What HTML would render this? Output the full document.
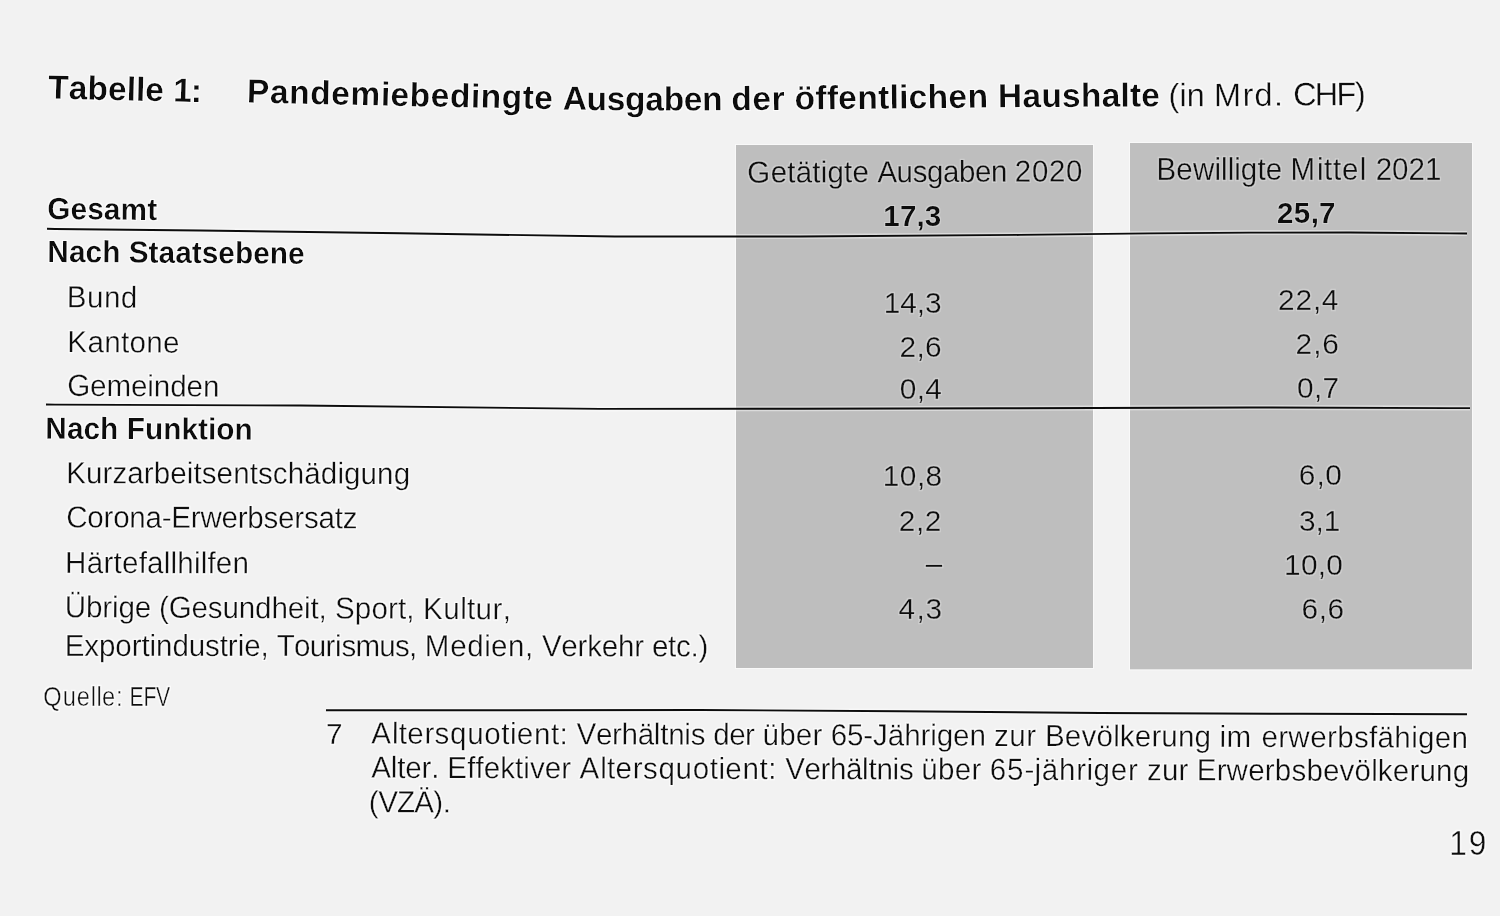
<!DOCTYPE html><html><head><meta charset="utf-8"><title>Tabelle 1</title><style>
html,body{margin:0;padding:0;background:#f2f2f2;}svg{display:block;}
text{font-family:"Liberation Sans",Arial,sans-serif;fill:#0a0a0a;}text.b{font-weight:bold;}text.r{font-weight:normal;}
</style></head><body>
<svg width="1500" height="916" viewBox="0 0 1500 916">
<rect x="0" y="0" width="1500" height="916" fill="#f2f2f2"/>
<rect fill="#bebebe" x="736" y="145" width="357" height="523"/>
<rect fill="#bfbfbf" x="1130" y="143" width="342" height="526.5"/>
<rect x="735.5" y="144.5" width="358" height="524" fill="none" stroke="#fafafa" stroke-width="1" opacity="0.8"/>
<rect x="1129.5" y="142.5" width="343" height="527.5" fill="none" stroke="#fafafa" stroke-width="1" opacity="0.8"/>
<polyline opacity="0.45" fill="none" stroke="#ffffff" stroke-width="5.00" points="47.0,228.8 55.0,229.0 200.0,230.5 400.0,233.3 615.0,236.5 800.0,236.5 1020.0,234.9 1150.0,233.4 1250.0,232.6 1350.0,232.5 1450.0,233.4 1467.0,233.5"/>
<polyline opacity="0.45" fill="none" stroke="#ffffff" stroke-width="5.00" points="46.0,404.5 55.0,404.6 300.0,405.5 600.0,408.9 800.0,408.8 1000.0,408.3 1250.0,407.5 1450.0,408.1 1470.0,408.1"/>
<polyline opacity="0.45" fill="none" stroke="#ffffff" stroke-width="5.00" points="326.0,710.2 500.0,710.3 700.0,710.0 900.0,711.3 1100.0,713.0 1300.0,713.8 1467.0,714.2"/>
<polyline fill="none" stroke="#0c0c0c" stroke-width="1.90" points="47.0,228.8 55.0,229.0 200.0,230.5 400.0,233.3 615.0,236.5 800.0,236.5 1020.0,234.9 1150.0,233.4 1250.0,232.6 1350.0,232.5 1450.0,233.4 1467.0,233.5"/>
<polyline fill="none" stroke="#0c0c0c" stroke-width="1.90" points="46.0,404.5 55.0,404.6 300.0,405.5 600.0,408.9 800.0,408.8 1000.0,408.3 1250.0,407.5 1450.0,408.1 1470.0,408.1"/>
<polyline fill="none" stroke="#0c0c0c" stroke-width="1.90" points="326.0,710.2 500.0,710.3 700.0,710.0 900.0,711.3 1100.0,713.0 1300.0,713.8 1467.0,714.2"/>
<defs><filter id="hb" x="-5%" y="-30%" width="110%" height="160%"><feMorphology in="SourceAlpha" operator="dilate" radius="1.0" result="d"/><feFlood flood-color="#ffffff" flood-opacity="0.75"/><feComposite in2="d" operator="in" result="h"/><feMerge><feMergeNode in="h"/><feMergeNode in="SourceGraphic"/></feMerge></filter><filter id="hg" x="-5%" y="-30%" width="110%" height="160%"><feMorphology in="SourceAlpha" operator="dilate" radius="1.0" result="d"/><feFlood flood-color="#ffffff" flood-opacity="0.25"/><feComposite in2="d" operator="in" result="h"/><feMerge><feMergeNode in="h"/><feMergeNode in="SourceGraphic"/></feMerge></filter></defs>
<g filter="url(#hb)"><text class="b" style="font-size:33.40px" x="47.92 68.46 87.16 107.69 126.39 135.73 145.06 163.74 173.10 190.80" y="98.50 99.01 99.47 99.97 100.43 100.66 100.89 101.35 101.58 102.01" rotate="1.41 1.41 1.41 1.41 1.41 1.41 1.41 1.41 1.41 0.57">Tabelle 1:</text>
<text class="b" style="font-size:33.40px" x="246.77 269.71 288.91 309.94 330.99 350.18 380.82 390.37 409.56 430.58 449.75 470.83 480.40 501.42 522.44 533.94 553.07 562.67 586.53 606.73 625.11 645.30 663.67 683.87 702.25 722.46 731.63 752.63 771.79 785.10 794.70 815.57 826.97 838.37 857.42 878.27 889.71 899.22 908.70 927.75 948.62 967.66 988.51 998.07 1022.54 1041.43 1062.14 1081.02 1101.72 1120.61 1130.00 1141.31" y="102.57 103.04 103.47 103.94 104.41 104.83 105.52 105.73 106.16 106.60 107.00 107.43 107.63 108.06 108.49 108.73 109.27 109.70 110.24 110.30 110.35 110.41 110.46 110.52 110.58 110.45 110.35 110.10 109.88 109.72 109.61 109.37 109.24 109.12 108.93 108.72 108.59 108.48 108.37 108.14 107.90 107.68 107.43 107.32 107.18 107.08 106.97 106.87 106.76 106.66 106.61 106.55" rotate="1.28 1.28 1.28 1.28 1.28 1.28 1.28 1.28 1.18 1.18 1.18 1.18 1.18 1.18 1.18 1.18 2.54 0.17 0.17 0.17 0.17 0.17 0.17 0.17 -0.67 -0.67 -0.67 -0.67 -0.67 -0.67 -0.67 -0.67 -0.57 -0.57 -0.57 -0.67 -0.67 -0.67 -0.67 -0.67 -0.67 -0.67 -0.67 -0.31 -0.31 -0.31 -0.31 -0.31 -0.31 -0.31 -0.31 -0.25">Pandemiebedingte Ausgaben der öffentlichen Haushalte</text>
<text class="r" style="font-size:32.50px;stroke:#f2f2f2;stroke-width:0.30px" x="1168.53 1179.41 1186.66 1204.80 1213.88 1242.88 1254.43 1273.93 1283.40 1293.20 1314.80 1336.48 1355.00" y="106.42 106.37 106.34 106.26 106.22 106.07 105.97 105.79 105.71 105.62 105.43 105.23 105.06" rotate="-0.25 -0.25 -0.25 -0.25 -0.25 -0.52 -0.52 -0.52 -0.52 -0.52 -0.52 -0.52 -0.52">(in Mrd. CHF)</text>
<text class="b" style="font-size:30.60px" x="48.64 72.68 89.87 107.06 124.25 151.73" y="218.92 219.16 219.32 219.49 219.66 219.93" rotate="0.60 0.60 0.60 0.60 0.60 0.60" transform="scale(0.9700,1)">Gesamt</text>
<text class="b" style="font-size:30.60px" x="48.78 71.02 88.16 105.29 124.10 132.66 153.21 163.47 180.60 197.73 207.99 225.12 242.25 261.07 278.20 297.02" y="261.95 262.10 262.21 262.33 262.46 262.52 262.65 262.72 262.84 262.96 263.03 263.14 263.26 263.39 263.50 263.63" rotate="0.41 0.41 0.41 0.41 0.41 0.41 0.41 0.41 0.41 0.41 0.41 0.41 0.41 0.41 0.41 0.41" transform="scale(0.9700,1)">Nach Staatsebene</text>
<text class="r" style="font-size:30.50px;stroke:#f2f2f2;stroke-width:0.30px" x="69.01 89.99 107.48 124.97" y="307.27 307.43 307.56 307.69" rotate="0.46 0.46 0.46 0.46" transform="scale(0.9670,1)">Bund</text>
<text class="r" style="font-size:30.50px;stroke:#f2f2f2;stroke-width:0.30px" x="69.63 90.46 107.83 125.20 133.88 151.25 168.62" y="352.08 352.21 352.32 352.43 352.49 352.59 352.70" rotate="0.38 0.38 0.38 0.38 0.38 0.38 0.38" transform="scale(0.9670,1)">Kantone</text>
<text class="r" style="font-size:30.50px;stroke:#f2f2f2;stroke-width:0.30px" x="69.46 93.14 110.06 135.42 152.34 159.10 176.03 192.96 209.88" y="395.88 396.02 396.12 396.27 396.37 396.41 396.51 396.61 396.71" rotate="0.36 0.36 0.36 0.36 0.36 0.36 0.36 0.36 0.36" transform="scale(0.9670,1)">Gemeinden</text>
<text class="b" style="font-size:30.60px" x="46.72 68.96 86.08 103.21 122.02 130.58 149.39 168.20 187.01 204.14 214.39 222.95 241.76" y="438.67 438.79 438.88 438.98 439.08 439.12 439.22 439.32 439.42 439.51 439.57 439.61 439.71" rotate="0.32 0.32 0.32 0.32 0.32 0.32 0.32 0.32 0.32 0.32 0.32 0.32 0.32" transform="scale(0.9700,1)">Nach Funktion</text>
<text class="r" style="font-size:30.50px;stroke:#f2f2f2;stroke-width:0.30px" x="68.39 88.92 106.03 116.28 131.66 148.77 159.02 176.13 193.25 200.08 208.63 224.02 241.13 258.24 266.79 282.18 297.56 314.68 331.79 348.90 355.74 372.85 389.96 407.08" y="483.19 483.24 483.28 483.30 483.34 483.38 483.40 483.44 483.48 483.50 483.52 483.56 483.60 483.64 483.66 483.69 483.73 483.77 483.81 483.85 483.86 483.90 483.94 483.98" rotate="0.14 0.14 0.14 0.14 0.14 0.14 0.14 0.14 0.14 0.14 0.14 0.14 0.14 0.14 0.14 0.14 0.14 0.14 0.14 0.14 0.14 0.14 0.14 0.14" transform="scale(0.9670,1)">Kurzarbeitsentschädigung</text>
<text class="r" style="font-size:30.50px;stroke:#f2f2f2;stroke-width:0.30px" x="68.52 90.25 106.98 117.00 133.74 150.47 167.20 177.22 197.29 207.31 229.04 245.77 255.79 272.53 287.57 304.31 314.33 329.37 346.10 354.46" y="527.49 527.54 527.58 527.61 527.65 527.69 527.73 527.75 527.80 527.82 527.87 527.91 527.94 527.98 528.01 528.05 528.07 528.11 528.15 528.17" rotate="0.15 0.15 0.15 0.15 0.15 0.15 0.15 0.15 0.15 0.15 0.15 0.15 0.15 0.15 0.15 0.15 0.15 0.15 0.15 0.15" transform="scale(0.9670,1)">Corona-Erwerbsersatz</text>
<text class="r" style="font-size:30.50px;stroke:#f2f2f2;stroke-width:0.30px" x="67.25 89.76 107.10 117.48 126.14 143.47 152.13 169.47 176.39 183.32 200.65 207.57 214.50 223.16 240.49" y="572.89 572.95 572.99 573.02 573.05 573.09 573.12 573.17 573.18 573.20 573.25 573.27 573.29 573.31 573.36" rotate="0.17 0.17 0.17 0.17 0.17 0.17 0.17 0.17 0.17 0.17 0.17 0.17 0.17 0.17 0.17" transform="scale(0.9670,1)">Härtefallhilfen</text>
<text class="r" style="font-size:30.50px;stroke:#f2f2f2;stroke-width:0.30px" x="67.09 88.91 105.70 115.76 122.48 139.27 156.08 164.45 174.54 198.11 214.97 230.11 246.96 263.81 280.66 297.51 314.36 321.10 329.50 337.94 346.35 366.96 384.13 401.32 411.59 420.20 428.75 437.37 458.43 476.02 482.98 491.82 509.40 519.95" y="617.28 617.37 617.45 617.49 617.52 617.60 617.67 617.71 617.75 617.86 617.93 618.00 618.07 618.15 618.22 618.29 618.37 618.40 618.44 618.47 618.51 618.60 618.68 618.75 618.80 618.84 618.87 618.91 619.00 619.08 619.11 619.15 619.23 619.28" rotate="0.27 0.27 0.27 0.27 0.27 0.27 0.27 0.27 0.27 0.27 0.27 0.27 0.27 0.27 0.27 0.27 0.27 0.27 0.27 0.27 0.27 0.27 0.27 0.27 0.27 0.27 0.27 0.27 0.27 0.27 0.27 0.27 0.27 0.27" transform="scale(0.9670,1)">Übrige (Gesundheit, Sport, Kultur,</text>
<text class="r" style="font-size:30.50px;stroke:#f2f2f2;stroke-width:0.30px" x="66.94 87.20 102.36 119.25 136.12 146.23 154.66 161.40 178.28 195.16 212.04 227.22 235.64 245.75 252.49 269.36 277.81 286.24 304.13 320.41 336.72 346.48 353.04 367.66 392.09 408.44 423.03 431.28 439.33 465.61 483.18 500.77 507.77 525.36 542.96 551.64 560.42 580.50 597.24 607.27 622.34 639.09 655.84 665.90 674.25 690.89 699.18 714.09 722.45" y="655.90 655.91 655.93 655.94 655.96 655.97 655.98 655.98 656.00 656.01 656.03 656.04 656.05 656.06 656.06 656.08 656.09 656.10 656.11 656.13 656.14 656.15 656.16 656.17 656.19 656.21 656.22 656.23 656.23 656.26 656.27 656.29 656.30 656.31 656.33 656.34 656.35 656.36 656.38 656.39 656.40 656.42 656.43 656.44 656.45 656.46 656.47 656.49 656.49" rotate="0.06 0.06 0.06 0.06 0.06 0.06 0.06 0.06 0.06 0.06 0.06 0.06 0.06 0.06 0.06 0.06 0.06 0.06 0.06 0.06 0.06 0.06 0.06 0.06 0.06 0.06 0.06 0.06 0.06 0.06 0.06 0.06 0.06 0.06 0.06 0.06 0.06 0.06 0.06 0.06 0.06 0.06 0.06 0.06 0.06 0.06 0.06 0.06 0.06" transform="scale(0.9670,1)">Exportindustrie, Tourismus, Medien, Verkehr etc.)</text>
<text class="r" style="font-size:27.50px;stroke:#f2f2f2;stroke-width:0.45px" x="50.22 72.99 89.28 105.57 112.07 118.58 134.86" y="705.80 705.80 705.80 705.80 705.80 705.80 705.80" transform="scale(0.8600,1)">Quelle:</text>
<text class="r" style="font-size:27.50px;stroke:#f2f2f2;stroke-width:0.40px" x="168.19 186.24 202.76" y="705.80 705.80 705.80" transform="scale(0.7700,1)">EFV</text>
<text class="r" style="font-size:29.80px;stroke:#f2f2f2;stroke-width:0.30px" x="325.92" y="743.60">7</text>
<text class="r" style="font-size:30.50px;stroke:#f2f2f2;stroke-width:0.30px" x="383.97 405.29 412.29 421.17 438.91 449.45 465.39 483.12 500.80 518.46 527.38 534.42 552.15 569.79 578.73 587.45 596.30 616.24 632.87 642.83 659.49 676.12 682.80 691.08 707.72 714.39 729.37 737.66 754.10 770.52 780.43 788.58 805.76 822.94 840.13 850.40 859.00 875.90 892.79 902.91 918.10 934.99 951.89 962.00 968.76 985.65 1002.54 1019.44 1027.88 1043.70 1061.28 1071.73 1080.60 1101.22 1118.41 1133.90 1151.12 1157.99 1173.45 1190.67 1200.98 1218.19 1235.38 1252.57 1261.20 1268.42 1295.34 1304.45 1321.88 1332.26 1354.91 1372.34 1382.77 1400.15 1415.80 1424.52 1441.96 1459.37 1466.31 1483.73 1501.16" y="743.60 743.68 743.70 743.73 743.79 743.83 743.88 743.94 744.00 744.06 744.09 744.12 744.18 744.24 744.27 744.30 744.33 744.39 744.45 744.49 744.54 744.60 744.62 744.65 744.71 744.73 744.78 744.81 744.86 744.92 744.95 744.98 745.04 745.10 745.16 745.19 745.22 745.28 745.34 745.37 745.42 745.48 745.55 745.59 745.62 745.69 745.77 745.84 745.88 745.95 746.02 746.07 746.11 746.20 746.27 746.34 746.41 746.44 746.51 746.58 746.63 746.70 746.78 746.85 746.89 746.92 747.04 747.08 747.15 747.20 747.30 747.37 747.42 747.49 747.56 747.60 747.67 747.75 747.78 747.86 747.93" rotate="0.21 0.21 0.21 0.21 0.21 0.21 0.21 0.21 0.21 0.21 0.21 0.21 0.21 0.21 0.21 0.21 0.21 0.21 0.21 0.21 0.21 0.21 0.21 0.21 0.21 0.21 0.21 0.21 0.21 0.21 0.21 0.21 0.21 0.21 0.21 0.21 0.21 0.21 0.21 0.21 0.21 0.27 0.27 0.27 0.27 0.27 0.27 0.27 0.27 0.27 0.27 0.27 0.27 0.27 0.27 0.27 0.27 0.27 0.27 0.27 0.27 0.27 0.27 0.27 0.27 0.27 0.27 0.27 0.27 0.27 0.27 0.27 0.27 0.27 0.27 0.27 0.27 0.27 0.27 0.27 0.27" transform="scale(0.9670,1)">Altersquotient: Verhältnis der über 65-Jährigen zur Bevölkerung im erwerbsfähigen</text>
<text class="r" style="font-size:30.50px;stroke:#f2f2f2;stroke-width:0.30px" x="383.97 404.03 410.74 419.10 435.84 445.86 454.26 462.60 483.09 491.63 500.18 517.29 532.65 541.20 548.02 563.40 580.51 590.73 599.27 620.65 627.66 636.57 654.35 664.92 680.90 698.67 716.39 734.10 743.04 750.09 767.87 785.54 794.52 803.25 812.13 831.95 848.48 858.39 874.96 891.50 898.15 906.38 922.93 929.57 944.47 952.69 970.00 987.30 1004.63 1014.96 1023.64 1041.48 1059.36 1069.94 1077.19 1095.10 1112.96 1123.65 1130.75 1148.62 1166.52 1177.11 1186.10 1201.54 1218.71 1228.97 1237.58 1258.19 1268.46 1290.81 1308.02 1318.31 1335.50 1350.97 1368.16 1385.34 1400.82 1418.03 1424.90 1440.35 1457.55 1467.85 1485.05 1502.23" y="777.80 777.87 777.89 777.91 777.96 777.99 778.02 778.04 778.11 778.13 778.16 778.21 778.26 778.28 778.30 778.35 778.40 778.43 778.46 778.52 778.55 778.57 778.63 778.66 778.71 778.76 778.82 778.87 778.90 778.92 778.97 779.03 779.05 779.08 779.11 779.17 779.22 779.25 779.30 779.35 779.37 779.39 779.44 779.47 779.51 779.53 779.59 779.64 779.69 779.72 779.74 779.80 779.85 779.88 779.90 779.95 780.01 780.04 780.06 780.11 780.16 780.20 780.22 780.27 780.32 780.35 780.37 780.43 780.46 780.53 780.58 780.61 780.66 780.71 780.76 780.81 780.85 780.91 780.93 780.97 781.02 781.05 781.10 781.15" rotate="0.19 0.19 0.19 0.19 0.19 0.19 0.19 0.19 0.19 0.19 0.19 0.19 0.19 0.19 0.19 0.19 0.19 0.19 0.19 0.19 0.19 0.19 0.19 0.19 0.19 0.19 0.19 0.19 0.19 0.19 0.19 0.19 0.19 0.19 0.19 0.19 0.19 0.19 0.19 0.19 0.19 0.19 0.19 0.19 0.18 0.18 0.18 0.18 0.18 0.18 0.18 0.18 0.18 0.18 0.18 0.18 0.18 0.18 0.18 0.18 0.18 0.18 0.18 0.18 0.18 0.18 0.18 0.18 0.18 0.18 0.18 0.18 0.18 0.18 0.18 0.18 0.18 0.18 0.18 0.18 0.18 0.18 0.18 0.18" transform="scale(0.9670,1)">Alter. Effektiver Altersquotient: Verhältnis über 65-jähriger zur Erwerbsbevölkerung</text>
<text class="r" style="font-size:30.50px;stroke:#f2f2f2;stroke-width:0.30px" x="381.31 391.06 410.59 428.47 448.00 457.75" y="812.30 812.32 812.37 812.41 812.46 812.49" rotate="0.15 0.15 0.15 0.15 0.15 0.15" transform="scale(0.9670,1)">(VZÄ).</text>
<text class="r" style="font-size:36.00px;stroke:#f2f2f2;stroke-width:0.50px" x="1646.89 1668.98" y="854.70 854.70" transform="scale(0.8800,1)">19</text></g>
<g filter="url(#hg)"><text class="r" style="font-size:30.50px;stroke:#bebebe;stroke-width:0.30px" x="772.77 796.93 814.19 822.84 840.10 848.76 855.65 872.91 881.56 898.81 907.44 927.21 943.77 958.62 975.15 991.66 1008.20 1024.71 1041.29 1049.51 1067.16 1084.84 1102.49" y="182.71 182.62 182.56 182.53 182.47 182.44 182.42 182.36 182.33 182.27 182.24 182.17 182.11 182.06 182.00 181.94 181.88 181.82 181.77 181.74 181.67 181.61 181.55" rotate="-0.22 -0.22 -0.22 -0.22 -0.22 -0.22 -0.22 -0.22 -0.22 -0.22 -0.22 -0.22 -0.22 -0.22 -0.22 -0.22 -0.22 -0.22 -0.22 -0.22 -0.22 -0.22 -0.22" transform="scale(0.9670,1)">Getätigte Ausgaben 2020</text>
<text class="r" style="font-size:30.50px;stroke:#bfbfbf;stroke-width:0.30px" x="1196.00 1216.52 1233.63 1255.88 1262.72 1269.55 1276.39 1283.22 1300.34 1308.89 1326.00 1334.58 1362.06 1369.27 1378.45 1387.70 1406.14 1413.31 1422.62 1439.61 1456.60 1473.59" y="179.60 179.60 179.60 179.60 179.60 179.60 179.60 179.60 179.60 179.60 179.60 179.60 179.60 179.60 179.60 179.60 179.60 179.60 179.60 179.60 179.60 179.60" transform="scale(0.9670,1)">Bewilligte Mittel 2021</text>
<text class="b" style="font-size:29.50px" x="883.24 899.89 916.54 924.86" y="226.40 226.40 226.40 226.40">17,3</text>
<text class="b" style="font-size:29.50px" x="1276.88 1293.77 1310.65 1319.09" y="223.20 223.20 223.20 223.20">25,7</text>
<text class="r" style="font-size:29.80px;stroke:#bebebe;stroke-width:0.30px" x="883.78 900.27 916.75 924.99" y="312.60 312.60 312.60 312.60">14,3</text>
<text class="r" style="font-size:29.80px;stroke:#bebebe;stroke-width:0.30px" x="899.45 916.48 924.99" y="356.60 356.60 356.60">2,6</text>
<text class="r" style="font-size:29.80px;stroke:#bebebe;stroke-width:0.30px" x="899.69 916.80 925.35" y="399.10 399.10 399.10">0,4</text>
<text class="r" style="font-size:29.80px;stroke:#bfbfbf;stroke-width:0.30px" x="1277.95 1295.47 1313.00 1321.75" y="310.10 310.10 310.10 310.10">22,4</text>
<text class="r" style="font-size:29.80px;stroke:#bfbfbf;stroke-width:0.30px" x="1295.55 1313.31 1322.19" y="354.00 354.00 354.00">2,6</text>
<text class="r" style="font-size:29.80px;stroke:#bfbfbf;stroke-width:0.30px" x="1296.99 1313.92 1322.38" y="398.00 398.00 398.00">0,7</text>
<text class="r" style="font-size:29.80px;stroke:#bebebe;stroke-width:0.30px" x="882.68 899.80 916.92 925.47" y="486.30 486.30 486.30 486.30">10,8</text>
<text class="r" style="font-size:29.80px;stroke:#bebebe;stroke-width:0.30px" x="898.65 916.01 924.68" y="530.50 530.50 530.50">2,2</text>
<text class="r" style="font-size:29.80px;stroke:#bebebe;stroke-width:0.30px" x="898.47 916.48 925.49" y="619.00 619.00 619.00">4,3</text>
<text class="r" style="font-size:30.50px;stroke:#bebebe;stroke-width:0.30px" x="957.24" y="574.50" transform="scale(0.9670,1)">–</text>
<text class="r" style="font-size:29.80px;stroke:#bfbfbf;stroke-width:0.30px" x="1298.64 1316.38 1325.24" y="485.40 485.40 485.40">6,0</text>
<text class="r" style="font-size:29.80px;stroke:#bfbfbf;stroke-width:0.30px" x="1299.02 1315.59 1323.87" y="530.50 530.50 530.50">3,1</text>
<text class="r" style="font-size:29.80px;stroke:#bfbfbf;stroke-width:0.30px" x="1284.08 1300.95 1317.81 1326.24" y="574.80 574.80 574.80 574.80">10,0</text>
<text class="r" style="font-size:29.80px;stroke:#bfbfbf;stroke-width:0.30px" x="1301.54 1318.77 1327.39" y="619.40 619.40 619.40">6,6</text></g>
</svg></body></html>
